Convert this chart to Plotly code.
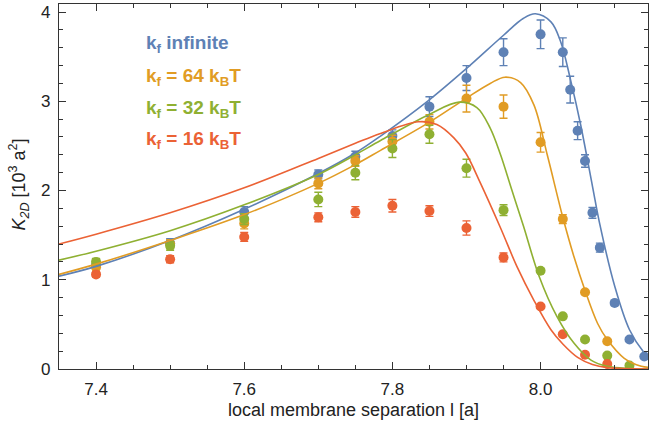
import plotly.graph_objects as go

# ---- data points (x, y, error) ----
x_blue = [7.4, 7.5, 7.6, 7.7, 7.75, 7.8, 7.85, 7.9, 7.95, 8.0, 8.03, 8.04, 8.05, 8.06, 8.07, 8.08, 8.1, 8.12, 8.14]
y_blue = [1.16, 1.41, 1.76, 2.18, 2.38, 2.61, 2.94, 3.26, 3.55, 3.75, 3.55, 3.13, 2.67, 2.33, 1.75, 1.36, 0.74, 0.33, 0.14]
e_blue = [0.04, 0.05, 0.06, 0.05, 0.06, 0.07, 0.11, 0.14, 0.15, 0.16, 0.16, 0.15, 0.10, 0.07, 0.06, 0.05, 0.03, 0.02, 0.02]

x_orange = [7.4, 7.5, 7.6, 7.7, 7.75, 7.8, 7.85, 7.9, 7.95, 8.0, 8.03, 8.06, 8.09]
y_orange = [1.14, 1.40, 1.63, 2.08, 2.33, 2.55, 2.77, 3.03, 2.94, 2.54, 1.68, 0.86, 0.31]
e_orange = [0.04, 0.05, 0.06, 0.06, 0.06, 0.07, 0.08, 0.15, 0.13, 0.11, 0.05, 0.02, 0.02]

x_green = [7.4, 7.5, 7.6, 7.7, 7.75, 7.8, 7.85, 7.9, 7.95, 8.0, 8.03, 8.06, 8.09, 8.12]
y_green = [1.20, 1.38, 1.68, 1.90, 2.20, 2.47, 2.63, 2.25, 1.78, 1.10, 0.59, 0.33, 0.15, 0.04]
e_green = [0.04, 0.05, 0.06, 0.08, 0.08, 0.10, 0.10, 0.10, 0.06, 0.02, 0.02, 0.02, 0.01, 0.01]

x_red = [7.4, 7.5, 7.6, 7.7, 7.75, 7.8, 7.85, 7.9, 7.95, 8.0, 8.03, 8.06, 8.09]
y_red = [1.06, 1.23, 1.48, 1.70, 1.76, 1.83, 1.77, 1.58, 1.25, 0.70, 0.39, 0.16, 0.056]
e_red = [0.03, 0.04, 0.05, 0.05, 0.06, 0.07, 0.06, 0.08, 0.05, 0.02, 0.02, 0.01, 0.01]

# ---- fitted curves ----
cx_blue = [7.35, 7.4, 7.5, 7.6, 7.7, 7.75, 7.784, 7.849, 7.899, 7.95, 7.977, 7.993, 8.014, 8.027, 8.041, 8.054, 8.07, 8.08, 8.1, 8.12, 8.14, 8.145]
cy_blue = [1.04, 1.15, 1.44, 1.79, 2.19, 2.42, 2.61, 3.01, 3.36, 3.74, 3.93, 3.98, 3.89, 3.67, 3.22, 2.74, 2.05, 1.62, 0.93, 0.44, 0.18, 0.14]

cx_orange = [7.35, 7.4, 7.5, 7.6, 7.7, 7.75, 7.784, 7.849, 7.899, 7.932, 7.952, 7.973, 7.991, 8.009, 8.03, 8.045, 8.06, 8.077, 8.09, 8.113, 8.136, 8.145]
cy_orange = [1.06, 1.175, 1.44, 1.73, 2.08, 2.29, 2.45, 2.76, 3.03, 3.20, 3.27, 3.21, 2.96, 2.40, 1.70, 1.26, 0.88, 0.51, 0.33, 0.12, 0.03, 0.02]

cx_green = [7.35, 7.4, 7.5, 7.6, 7.7, 7.75, 7.784, 7.849, 7.89, 7.914, 7.932, 7.946, 7.961, 7.977, 7.998, 8.022, 8.045, 8.068, 8.09, 8.12, 8.145]
cy_green = [1.22, 1.32, 1.55, 1.84, 2.18, 2.40, 2.56, 2.85, 2.99, 2.93, 2.70, 2.40, 2.01, 1.60, 1.04, 0.59, 0.29, 0.10, 0.03, 0.005, 0.0]

cx_red = [7.35, 7.4, 7.5, 7.6, 7.7, 7.75, 7.784, 7.835, 7.86, 7.883, 7.899, 7.919, 7.946, 7.968, 7.991, 8.014, 8.03, 8.05, 8.07, 8.09, 8.145]
cy_red = [1.40, 1.51, 1.75, 2.03, 2.36, 2.53, 2.64, 2.77, 2.74, 2.59, 2.42, 2.08, 1.58, 1.15, 0.77, 0.44, 0.28, 0.13, 0.05, 0.015, 0.0]

legend_labels = ["k<sub>f</sub> infinite",
                 "k<sub>f</sub> = 64 k<sub>B</sub>T",
                 "k<sub>f</sub> = 32 k<sub>B</sub>T",
                 "k<sub>f</sub> = 16 k<sub>B</sub>T"]
legend_y = [3.645, 3.275, 2.915, 2.565]

x_ticks = [7.4, 7.6, 7.8, 8.0]
x_ticktext = ["7.4", "7.6", "7.8", "8.0"]
y_ticks = [0, 1, 2, 3, 4]

BLUE = "#5E81B5"
ORANGE = "#E19C24"
GREEN = "#8FB032"
RED = "#EB6235"

FONT = "Liberation Sans, Arial, sans-serif"

fig = go.Figure()

series = [
    (cx_blue, cy_blue, x_blue, y_blue, e_blue, BLUE),
    (cx_orange, cy_orange, x_orange, y_orange, e_orange, ORANGE),
    (cx_green, cy_green, x_green, y_green, e_green, GREEN),
    (cx_red, cy_red, x_red, y_red, e_red, RED),
]

for cx, cy, px, py, pe, col in series:
    fig.add_trace(go.Scatter(x=px, y=py, mode="markers",
                             marker=dict(color=col, size=10, line=dict(width=0)),
                             error_y=dict(type="data", array=pe, color=col, thickness=1.4, width=4),
                             showlegend=False, hoverinfo="skip"))

for cx, cy, px, py, pe, col in series:
    fig.add_trace(go.Scatter(x=cx, y=cy, mode="lines",
                             line=dict(color=col, width=1.6, shape="spline", smoothing=1.0),
                             showlegend=False, hoverinfo="skip"))

cols = [BLUE, ORANGE, GREEN, RED]
for lab, ly, col in zip(legend_labels, legend_y, cols):
    fig.add_annotation(x=7.465, y=ly, xref="x", yref="y", text="<b>" + lab + "</b>",
                       showarrow=False, xanchor="left", yanchor="middle",
                       font=dict(family=FONT, size=19, color=col))

fig.add_annotation(xref="paper", yref="paper", x=-0.068, y=0.505,
                   text="<i>K</i><sub><i>2D</i></sub> [10<sup>3</sup> a<sup>2</sup>]",
                   textangle=-90, showarrow=False, xanchor="center", yanchor="middle",
                   font=dict(family=FONT, size=18, color="#222"))

axis_common = dict(showline=True, mirror="allticks", linecolor="#333", linewidth=1.2,
                   ticks="inside", ticklen=7, tickwidth=1, tickcolor="#333",
                   showgrid=False, zeroline=False, ticklabelstandoff=4,
                   tickfont=dict(family=FONT, size=17, color="#222"))

fig.update_xaxes(range=[7.35, 8.145], tickvals=x_ticks, ticktext=x_ticktext,
                 minor=dict(dtick=0.05, tick0=7.4, ticks="inside", ticklen=4, tickcolor="#333", showgrid=False),
                 title=dict(text="local membrane separation l [a]", standoff=5,
                            font=dict(family=FONT, size=18, color="#222")),
                 **axis_common)
fig.update_yaxes(range=[0, 4.09], tickvals=y_ticks,
                 minor=dict(dtick=0.2, tick0=0, ticks="inside", ticklen=4, tickcolor="#333", showgrid=False),
                 **axis_common)

fig.update_layout(width=649, height=428, margin=dict(l=59, r=1, t=4, b=59),
                  plot_bgcolor="white", paper_bgcolor="white",
                  font=dict(family=FONT))

fig.write_html("out.html", config={"displayModeBar": False},
               post_script="document.body.style.margin='0';document.body.style.padding='0';")
